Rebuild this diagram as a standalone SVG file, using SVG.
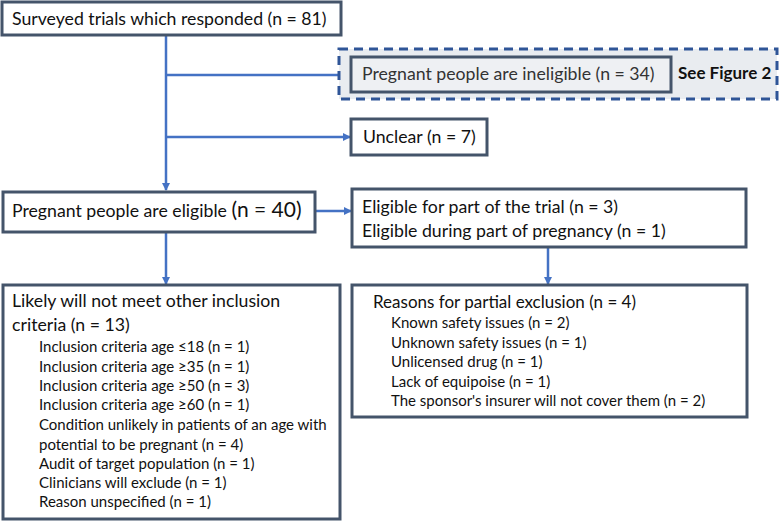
<svg xmlns="http://www.w3.org/2000/svg" width="780" height="521" viewBox="0 0 780 521">
<defs>
<marker id="ah" markerWidth="8" markerHeight="8" refX="7" refY="4" orient="auto" markerUnits="userSpaceOnUse">
<path d="M0,0 L8,4 L0,8 Z" fill="#4472c4"/>
</marker>
<style>
.box{fill:#fff;stroke:#44546a;stroke-width:3}
.t{font-family:Lato,"Liberation Sans",sans-serif;fill:#111}
.m{font-size:17.7px}
.i{font-size:15px}
.c{stroke:#4472c4;stroke-width:2.5;fill:none}
</style>
</defs>
<rect width="780" height="521" fill="#fff"/>
<g id="connectors">
<line class="c" x1="166" y1="35" x2="166" y2="190" marker-end="url(#ah)"/>
<line class="c" x1="166" y1="75" x2="349" y2="75" marker-end="url(#ah)"/>
<line class="c" x1="166" y1="137" x2="350" y2="137" marker-end="url(#ah)"/>
<line class="c" x1="315" y1="211" x2="351" y2="211" marker-end="url(#ah)"/>
<line class="c" x1="166" y1="232" x2="166" y2="284" marker-end="url(#ah)"/>
<line class="c" x1="548" y1="247" x2="548" y2="284" marker-end="url(#ah)"/>
</g>
<g id="n-surveyed">
<rect class="box" x="2" y="2" width="339" height="33"/>
<text class="t m" x="12" y="25">Surveyed trials which responded (n = 81)</text>
</g>
<g id="n-ineligible-group">
<rect x="339" y="49" width="438" height="50" fill="#e9ecf0" stroke="#2f5597" stroke-width="3" stroke-dasharray="9,6"/>
<rect x="351" y="57" width="320" height="35" fill="#eef0f3" stroke="#44546a" stroke-width="3"/>
<text class="t m" x="362" y="80" style="fill:#333">Pregnant people are ineligible (n = 34)</text>
<text class="t" x="678" y="79" font-size="17" font-weight="bold">See Figure 2</text>
</g>
<g id="n-unclear">
<rect class="box" x="351" y="119" width="136" height="36"/>
<text class="t m" x="363" y="143">Unclear (n = 7)</text>
</g>
<g id="n-eligible">
<rect class="box" x="3" y="192" width="312" height="40"/>
<text class="t" x="12" y="217"><tspan class="m">Pregnant people are eligible </tspan><tspan font-size="21">(n = 40)</tspan></text>
</g>
<g id="n-partial">
<rect class="box" x="352" y="189" width="394" height="58"/>
<text class="t m" x="362" y="213">Eligible for part of the trial (n = 3)</text>
<text class="t m" x="362" y="237">Eligible during part of pregnancy (n = 1)</text>
</g>
<g id="n-likely">
<rect class="box" x="3" y="285" width="337" height="234"/>
<text class="t m" x="12" y="307">Likely will not meet other inclusion</text>
<text class="t m" x="12" y="331">criteria (n = 13)</text>
<text class="t i" x="39" y="352">Inclusion criteria age ≤18 (n = 1)</text>
<text class="t i" x="39" y="372">Inclusion criteria age ≥35 (n = 1)</text>
<text class="t i" x="39" y="391">Inclusion criteria age ≥50 (n = 3)</text>
<text class="t i" x="39" y="410">Inclusion criteria age ≥60 (n = 1)</text>
<text class="t i" x="39" y="430">Condition unlikely in patients of an age with</text>
<text class="t i" x="39" y="450">potential to be pregnant (n = 4)</text>
<text class="t i" x="39" y="469">Audit of target population (n = 1)</text>
<text class="t i" x="39" y="488">Clinicians will exclude (n = 1)</text>
<text class="t i" x="39" y="507">Reason unspecified (n = 1)</text>
</g>
<g id="n-reasons">
<rect class="box" x="352" y="285" width="395" height="132"/>
<text class="t" x="373" y="308" font-size="17">Reasons for partial exclusion (n = 4)</text>
<text class="t i" x="391" y="328">Known safety issues (n = 2)</text>
<text class="t i" x="391" y="348">Unknown safety issues (n = 1)</text>
<text class="t i" x="391" y="367">Unlicensed drug (n = 1)</text>
<text class="t i" x="391" y="387">Lack of equipoise (n = 1)</text>
<text class="t i" x="391" y="406">The sponsor's insurer will not cover them (n = 2)</text>
</g>
</svg>
